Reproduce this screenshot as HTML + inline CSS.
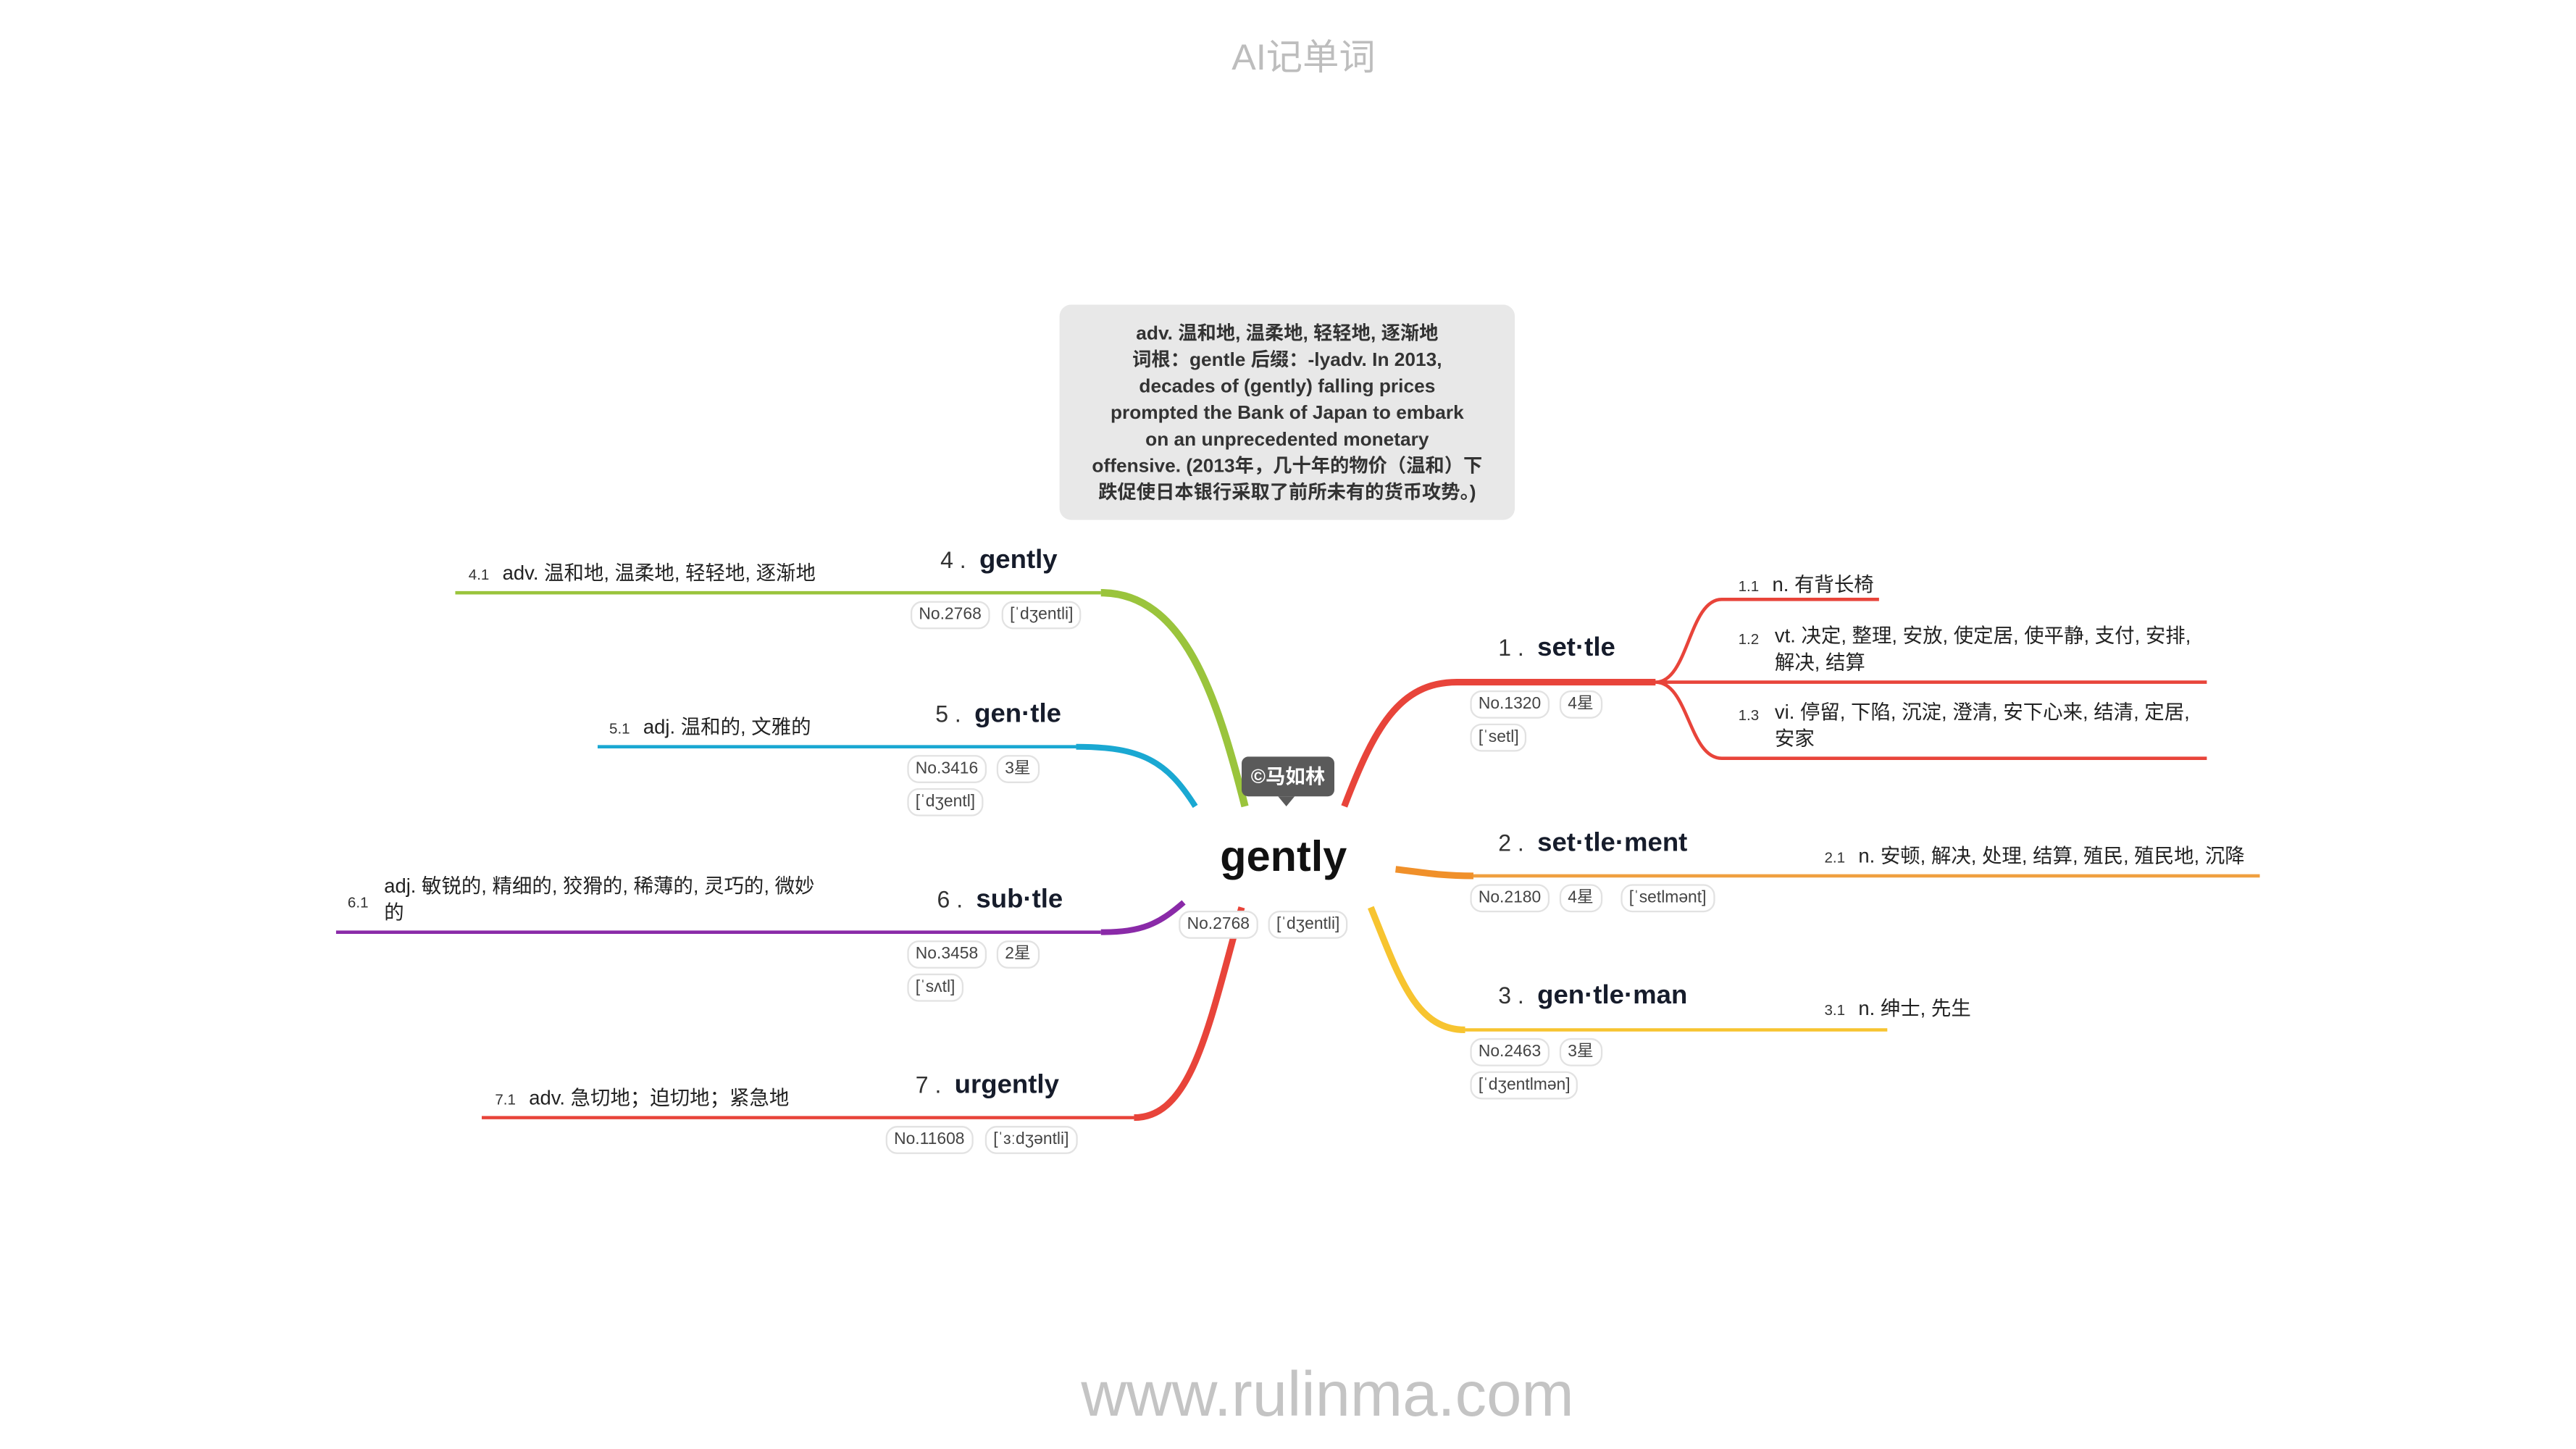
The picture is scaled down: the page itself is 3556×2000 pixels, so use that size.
<!DOCTYPE html>
<html><head><meta charset="utf-8">
<style>
html,body{margin:0;padding:0;background:#fff;overflow:hidden}
body{width:3556px;height:2000px;position:relative}
#stage{position:absolute;left:0;top:0;width:1556px;height:875px;transform:scale(2.28535);transform-origin:0 0;font-family:"Liberation Sans","Noto Sans CJK SC",sans-serif;color:#1a1f2e}
.a{position:absolute;white-space:nowrap}
.t{position:absolute;font-size:10px;line-height:15px;height:15px;padding:0 4px;border:1px solid #e2e2e2;border-radius:7px;color:#444;background:#fff;white-space:nowrap}
.h{position:absolute;font-size:16px;font-weight:bold;line-height:20px;white-space:nowrap;color:#161c2b}
.h span{font-weight:normal;font-size:14px;color:#333;margin-right:8px}
.s{position:absolute;font-size:12px;line-height:16px;color:#222}
.s b{font-weight:normal;font-size:9px;margin-right:8px;color:#333}
</style></head><body>
<div id="stage">
<div class="a" style="left:744px;top:17px;font-size:22px;color:#bdbdbd">AI记单词</div>
<div class="a" style="left:653px;top:822px;font-size:38px;color:#c4c4c4">www.rulinma.com</div>

<div class="a" style="left:640px;top:184px;width:275px;height:130px;background:#e8e8e8;border-radius:7px;font-size:11.5px;font-weight:bold;line-height:16px;text-align:center;color:#333;white-space:normal;padding-top:10px;box-sizing:border-box">adv. 温和地, 温柔地, 轻轻地, 逐渐地<br>词根：gentle 后缀：-lyadv. In 2013,<br>decades of (gently) falling prices<br>prompted the Bank of Japan to embark<br>on an unprecedented monetary<br>offensive. (2013年，几十年的物价（温和）下<br>跌促使日本银行采取了前所未有的货币攻势。)</div>

<svg class="a" width="1556" height="875" style="left:0;top:0" fill="none">
<path d="M812,487 C830,440 845,412 880,412 L1000,412" stroke="#e8443a" stroke-width="4"/>
<path d="M880,412 L1333,412 M1000,412 C1020,412 1020,362 1040,362 L1135,362 M1000,412 C1020,412 1020,458 1040,458 L1333,458" stroke="#e8443a" stroke-width="2"/>
<path d="M843,525 C860,527 870,529 890,529" stroke="#f0902a" stroke-width="4"/>
<path d="M890,529 L1365,529" stroke="#f0a040" stroke-width="2"/>
<path d="M828,548 C845,590 855,622 885,622" stroke="#f7c430" stroke-width="4"/>
<path d="M885,622 L1140,622" stroke="#f7c430" stroke-width="2"/>
<path d="M752,487 C735,420 715,358 665,358" stroke="#9ac43c" stroke-width="4.5"/>
<path d="M665,358 L275,358" stroke="#9ac43c" stroke-width="2"/>
<path d="M722,487 C705,460 690,451 650,451" stroke="#1aa8d2" stroke-width="3.5"/>
<path d="M650,451 L361,451" stroke="#1aa8d2" stroke-width="2"/>
<path d="M715,545 C700,558 690,563 665,563" stroke="#8a2aa8" stroke-width="3.5"/>
<path d="M665,563 L203,563" stroke="#8a2aa8" stroke-width="2"/>
<path d="M750,548 C730,620 720,675 685,675" stroke="#e8443a" stroke-width="4"/>
<path d="M685,675 L291,675" stroke="#e8443a" stroke-width="2"/>
</svg>

<div class="a" style="left:750px;top:457px;width:56px;height:24px;background:#5a5a5a;border-radius:4px;color:#fff;font-size:12px;font-weight:bold;line-height:24px;text-align:center">©马如林</div>
<div class="a" style="left:772px;top:481px;width:0;height:0;border-left:5px solid transparent;border-right:5px solid transparent;border-top:6px solid #5a5a5a"></div>
<div class="a" style="left:737px;top:501px;font-size:26px;font-weight:bold;line-height:32px;color:#111">gently</div>
<div class="t" style="left:712px;top:550px">No.2768</div>
<div class="t" style="left:766px;top:550px">[ˈdʒentli]</div>

<div class="h" style="left:905px;top:381px"><span>1 .</span>set·tle</div>
<div class="t" style="left:888px;top:417px">No.1320</div>
<div class="t" style="left:942px;top:417px">4星</div>
<div class="t" style="left:888px;top:437px">[ˈsetl]</div>
<div class="s" style="left:1050px;top:345px"><b>1.1</b>n. 有背长椅</div>
<div class="s" style="left:1050px;top:376px;width:290px"><b style="position:absolute;left:0;top:2px">1.2</b><div style="margin-left:22px">vt. 决定, 整理, 安放, 使定居, 使平静, 支付, 安排,<br>解决, 结算</div></div>
<div class="s" style="left:1050px;top:422px;width:290px"><b style="position:absolute;left:0;top:2px">1.3</b><div style="margin-left:22px">vi. 停留, 下陷, 沉淀, 澄清, 安下心来, 结清, 定居,<br>安家</div></div>

<div class="h" style="left:905px;top:499px"><span>2 .</span>set·tle·ment</div>
<div class="t" style="left:888px;top:534px">No.2180</div>
<div class="t" style="left:942px;top:534px">4星</div>
<div class="t" style="left:979px;top:534px">[ˈsetlmənt]</div>
<div class="s" style="left:1102px;top:509px"><b>2.1</b>n. 安顿, 解决, 处理, 结算, 殖民, 殖民地, 沉降</div>

<div class="h" style="left:905px;top:591px"><span>3 .</span>gen·tle·man</div>
<div class="t" style="left:888px;top:627px">No.2463</div>
<div class="t" style="left:942px;top:627px">3星</div>
<div class="t" style="left:888px;top:647px">[ˈdʒentlmən]</div>
<div class="s" style="left:1102px;top:601px"><b>3.1</b>n. 绅士, 先生</div>

<div class="h" style="left:568px;top:328px"><span>4 .</span>gently</div>
<div class="t" style="left:550px;top:363px">No.2768</div>
<div class="t" style="left:605px;top:363px">[ˈdʒentli]</div>
<div class="s" style="left:283px;top:338px"><b>4.1</b>adv. 温和地, 温柔地, 轻轻地, 逐渐地</div>

<div class="h" style="left:565px;top:421px"><span>5 .</span>gen·tle</div>
<div class="t" style="left:548px;top:456px">No.3416</div>
<div class="t" style="left:602px;top:456px">3星</div>
<div class="t" style="left:548px;top:476px">[ˈdʒentl]</div>
<div class="s" style="left:368px;top:431px"><b>5.1</b>adj. 温和的, 文雅的</div>

<div class="h" style="left:566px;top:533px"><span>6 .</span>sub·tle</div>
<div class="t" style="left:548px;top:568px">No.3458</div>
<div class="t" style="left:602px;top:568px">2星</div>
<div class="t" style="left:548px;top:588px">[ˈsʌtl]</div>
<div class="s" style="left:210px;top:527px;width:300px"><b style="position:absolute;left:0;top:10px">6.1</b><div style="margin-left:22px">adj. 敏锐的, 精细的, 狡猾的, 稀薄的, 灵巧的, 微妙<br>的</div></div>

<div class="h" style="left:553px;top:645px"><span>7 .</span>urgently</div>
<div class="t" style="left:535px;top:680px">No.11608</div>
<div class="t" style="left:595px;top:680px">[ˈɜːdʒəntli]</div>
<div class="s" style="left:299px;top:655px"><b>7.1</b>adv. 急切地；迫切地；紧急地</div>
</div>
</body></html>
